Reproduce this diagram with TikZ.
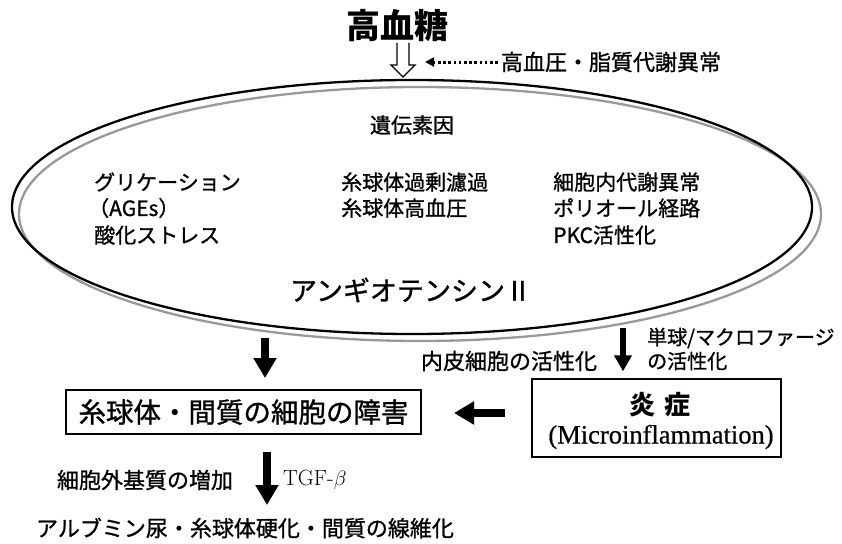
\documentclass[tikz,border=0pt]{standalone}
\usepackage{fontspec}
\newfontfamily\jp{Noto Sans CJK JP}
\newfontfamily\jpm[FakeBold=1.0]{Noto Sans CJK JP}
\newfontfamily\tms[FakeBold=0.6]{Liberation Serif}
\usetikzlibrary{arrows.meta}
\definecolor{ringgray}{gray}{0.6}
\tikzset{
  lab/.style={inner sep=0pt, font=\jpm\fontsize{22}{24}\selectfont},
  smalllab/.style={inner sep=0pt, anchor=west, font=\jpm\fontsize{20}{24}\selectfont},
  intxt/.style={inner sep=0pt, anchor=west, font=\jpm\fontsize{21}{24}\selectfont},
  boxed/.style={draw, line width=1.4pt, inner sep=0pt},
  bigarrow/.style={line width=7.5pt, -{Triangle[width=22pt,length=20pt]}},
  midarrow/.style={line width=6.5pt, -{Triangle[width=17pt,length=16pt]}},
}
\begin{document}
\begin{tikzpicture}[x=1pt,y=-1pt]
\fill[white] (0,0) rectangle (842,543);
\useasboundingbox (0,0) rectangle (842,543);

% title
\node[inner sep=0pt, font=\jp\bfseries\fontsize{34}{36}\selectfont] (hg) at (397,26) {高血糖};

% hollow arrow
\coordinate (ha) at (403,77);
\draw[line width=1.3pt, line join=miter] (397,43) -- (397,65) -- (391,65) -- (ha) -- (415,65) -- (409,65) -- (409,43);

% side factor
\node[lab] (hp) at (611,62) {高血圧・脂質代謝異常};
\coordinate (dt) at (425,62);
\draw[line width=3pt, dash pattern=on 2.6pt off 2.6pt, -{Triangle[width=9pt,length=9pt]}] ([xshift=-3pt]hp.west) -- (dt);

% double ellipse
\draw[ringgray, line width=2.3pt] (420,214) ellipse [x radius=401pt, y radius=127pt];
\draw[black, line width=2.3pt] (412,207) ellipse [x radius=400pt, y radius=127pt];

% ellipse texts
\node[inner sep=0pt, font=\jpm\fontsize{21}{24}\selectfont] (ig) at (412,125) {遺伝素因};
\node[intxt] (g1) at (94,182) {グリケーション};
\node[intxt] (g2) at (88,208) {（AGEs）};
\node[intxt] (g3) at (94,235) {酸化ストレス};
\node[intxt] (c1) at (341,182) {糸球体過剰濾過};
\node[intxt] (c2) at (341,208) {糸球体高血圧};
\node[intxt] (r1) at (553,182) {細胞内代謝異常};
\node[intxt] (r2) at (553,208) {ポリオール経路};
\node[intxt] (r3) at (553,235) {PKC活性化};
\node[inner sep=0pt, font=\jpm\fontsize{27}{30}\selectfont] (ang) at (411,290) {アンギオテンシンⅡ};

% boxes
\node[boxed, minimum width=355pt, minimum height=44pt, font=\jpm\fontsize{27.5}{30}\selectfont] (box1) at (243.5,412) {糸球体・間質の細胞の障害};
\node[boxed, minimum width=249pt, minimum height=78pt] (enbox) at (656.5,418) {};
\node[inner sep=0pt, font=\jp\bfseries\fontsize{26}{28}\selectfont] (en) at (660,405) {炎\hspace{9pt}症};
\node[inner sep=0pt, font=\tms\fontsize{26.5}{28}\selectfont] (mi) at (661,437) {(Microinflammation)};

% arrows from ellipse
\coordinate (a1s) at (265,338);
\coordinate (a1e) at (265,378);
\draw[bigarrow] (a1s) -- (a1e);
\coordinate (a2s) at (623,328);
\draw[midarrow, shorten >=7pt] (a2s) -- (a2s |- enbox.north);

% labels right arrow
\node[smalllab] (mono1) at (647,338) {単球/マクロファージ};
\node[smalllab] (mono2) at (647,361) {の活性化};
\node[lab] (endo) at (509,361) {内皮細胞の活性化};

% horizontal arrow
\coordinate (la1) at (505,413);
\coordinate (la2) at (454,413);
\draw[bigarrow, line width=8pt] (la1) -- (la2);

% bottom arrow
\coordinate (b1) at (267,452);
\coordinate (b2) at (267,505);
\draw[bigarrow] (b1) -- (b2);
\node[lab] (ecm) at (145,480) {細胞外基質の増加};
\node[inner sep=0pt, anchor=west, font=\fontsize{22}{24}\selectfont] (tgf) at (283,480) {TGF-$\beta$};

\node[lab] (res) at (245,528) {アルブミン尿・糸球体硬化・間質の線維化};
\end{tikzpicture}
\end{document}
